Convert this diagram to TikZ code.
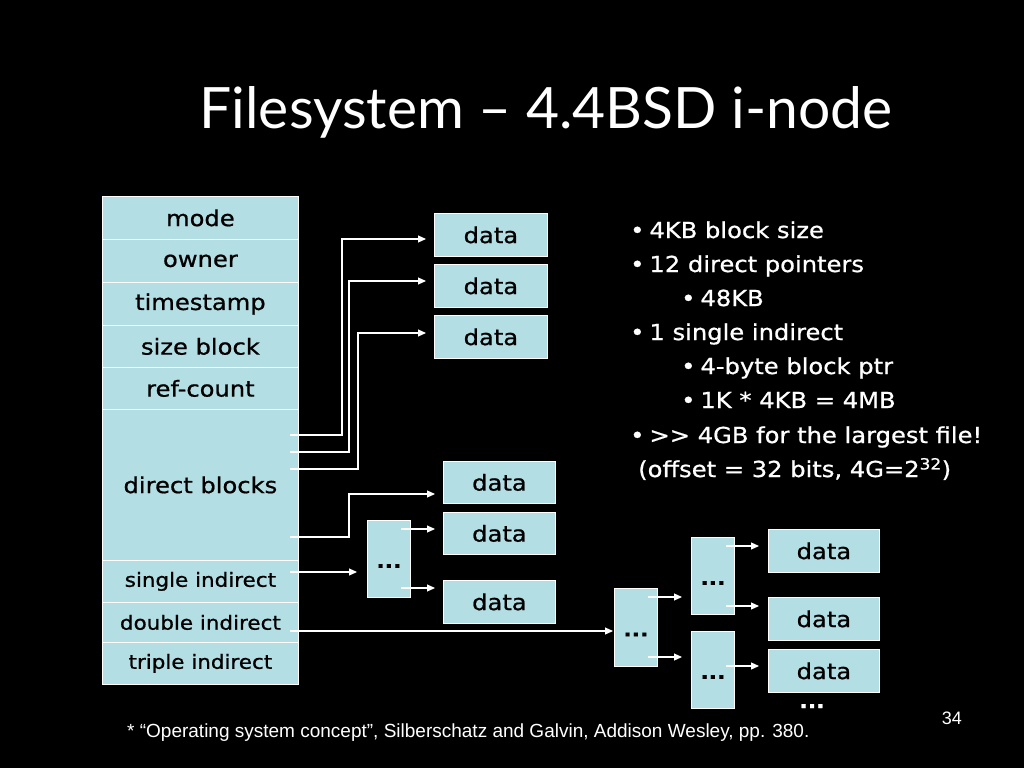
\documentclass[tikz,border=0pt]{standalone}
\usepackage{fontspec}
\setmainfont[FakeStretch=1.1,FakeBold=0.8]{DejaVu Sans}
\newfontfamily\titlefont{Lato}
\newfontfamily\footfont{Liberation Sans}
\usetikzlibrary{arrows.meta}
\definecolor{boxblue}{RGB}{178,222,228}
\begin{document}
\begin{tikzpicture}[x=1pt,y=-1pt,
  blk/.style={draw=white, line width=0.8pt, fill=boxblue, inner sep=0pt, anchor=north west, text=black, font=\fontsize{22}{24}\selectfont},
  sblk/.style={blk, font=\fontsize{19.5}{22}\selectfont},
  dots/.style={blk, font=\fontsize{20}{22}\selectfont\bfseries, text height=18pt, text depth=0pt},
  conn/.style={draw=white, line width=1.1pt},
  arr/.style={conn, -{Triangle[length=8pt,width=7pt]}},
  txt/.style={text=white, anchor=base west, inner sep=0pt, font=\fontsize{22}{24}\selectfont}]
\fill[black] (0,0) rectangle (1024,768);
\useasboundingbox (0,0) rectangle (1024,768);

% title
\node[text=white, inner sep=0pt, font=\titlefont\fontsize{57}{60}\selectfont] (title) at (546,112) {Filesystem – 4.4BSD i-node};

% i-node table
\node[blk, minimum width=196pt, minimum height=43pt] (mode) at (102,196) {mode};
\node[blk, minimum width=196pt, minimum height=43pt] (owner) at (102,239) {owner};
\node[blk, minimum width=196pt, minimum height=43pt] (ts) at (102,282) {timestamp};
\node[blk, minimum width=196pt, minimum height=42pt] (size) at (102,325) {size block};
\node[blk, minimum width=196pt, minimum height=42pt] (ref) at (102,367) {ref-count};
\node[blk, minimum width=196pt, minimum height=151pt] (direct) at (102,409) {direct blocks};
\node[sblk, minimum width=196pt, minimum height=42pt] (single) at (102,560) {single indirect};
\node[sblk, minimum width=196pt, minimum height=40pt] (double) at (102,602) {double indirect};
\node[sblk, minimum width=196pt, minimum height=42pt] (triple) at (102,642) {triple indirect};

% data blocks (direct)
\node[blk, minimum width=113pt, minimum height=43pt] (d1) at (434,213) {data};
\node[blk, minimum width=113pt, minimum height=43pt] (d2) at (434,264) {data};
\node[blk, minimum width=113pt, minimum height=43pt] (d3) at (434,315) {data};
\node[blk, minimum width=112pt, minimum height=42pt] (d4) at (443,461) {data};
\node[blk, minimum width=112pt, minimum height=42pt] (d5) at (443,512) {data};
\node[blk, minimum width=112pt, minimum height=43pt] (d6) at (443,580) {data};

% single indirect block
\node[dots, minimum width=43pt, minimum height=77pt] (ind1) at (367,520) {...};

% double indirect blocks
\node[dots, minimum width=43pt, minimum height=78pt] (dbl) at (614,588) {...};
\node[dots, minimum width=43pt, minimum height=77pt] (dblA) at (691,537) {...};
\node[dots, minimum width=43pt, minimum height=77pt] (dblB) at (691,631) {...};
\node[blk, minimum width=111pt, minimum height=43pt] (d7) at (768,529) {data};
\node[blk, minimum width=111pt, minimum height=43pt] (d8) at (768,597) {data};
\node[blk, minimum width=111pt, minimum height=43pt] (d9) at (768,649) {data};
\node[text=white, inner sep=0pt, anchor=base, font=\fontsize{20}{22}\selectfont\bfseries] (more) at (812,708) {...};

% connector start points
\coordinate (s1) at (290,435);
\coordinate (s2) at (290,452);
\coordinate (s3) at (290,469);
\coordinate (s4) at (290,537);
\coordinate (s5) at (290,572);
\coordinate (s6) at (290,631);
\coordinate (i1a) at (401,529);
\coordinate (i1b) at (401,588);
\coordinate (da) at (648,597);
\coordinate (db) at (648,657);
\coordinate (aa) at (726,546);
\coordinate (ab) at (726,606);
\coordinate (ba) at (726,666);

\draw[arr, shorten >=8pt] (s1) -| (342,239) -- (d1.west |- 0,239);
\draw[arr, shorten >=8pt] (s2) -| (349,281) -- (d2.west |- 0,281);
\draw[arr, shorten >=8pt] (s3) -| (358,333) -- (d3.west |- 0,333);
\draw[arr, shorten >=8pt] (s4) -| (349,494) -- (d4.west |- 0,494);
\draw[arr, shorten >=10pt] (s5) -- (ind1.west |- 0,572);
\draw[arr, shorten >=8pt] (i1a) -- (d5.west |- 0,529);
\draw[arr, shorten >=8pt] (i1b) -- (d6.west |- 0,588);
\draw[arr, shorten >=1pt] (s6) -- (dbl.west |- 0,631);
\draw[arr, shorten >=9pt] (da) -- (dblA.west |- 0,597);
\draw[arr, shorten >=9pt] (db) -- (dblB.west |- 0,657);
\draw[arr, shorten >=9pt] (aa) -- (d7.west |- 0,546);
\draw[arr, shorten >=9pt] (ab) -- (d8.west |- 0,606);
\draw[arr, shorten >=9pt] (ba) -- (d9.west |- 0,666);

% bullet list
\node[txt] (b1) at (630,238) {\textbullet\hspace{5pt}4KB block size};
\node[txt] (b2) at (630,272) {\textbullet\hspace{5pt}12 direct pointers};
\node[txt] (b3) at (681,306) {\textbullet\hspace{5pt}48KB};
\node[txt] (b4) at (630,340) {\textbullet\hspace{5pt}1 single indirect};
\node[txt] (b5) at (681,374) {\textbullet\hspace{5pt}4-byte block ptr};
\node[txt] (b6) at (681,408) {\textbullet\hspace{5pt}1K * 4KB = 4MB};
\node[txt] (b7) at (630,443) {\textbullet\hspace{5pt}{>}{>} 4GB for the largest file!};
\node[txt] (b8) at (638,477) {(offset = 32 bits, 4G=2\textsuperscript{32})};

% footnote and page number
\node[text=white, anchor=base west, inner sep=0pt, font=\footfont\fontsize{19}{21}\selectfont] (foot) at (127,737) {* “Operating system concept”, Silberschatz and Galvin, Addison Wesley, pp. 380.};
\node[text=white, anchor=base east, inner sep=0pt, font=\footfont\fontsize{18}{20}\selectfont] (page) at (962,724) {34};
\end{tikzpicture}
\end{document}
